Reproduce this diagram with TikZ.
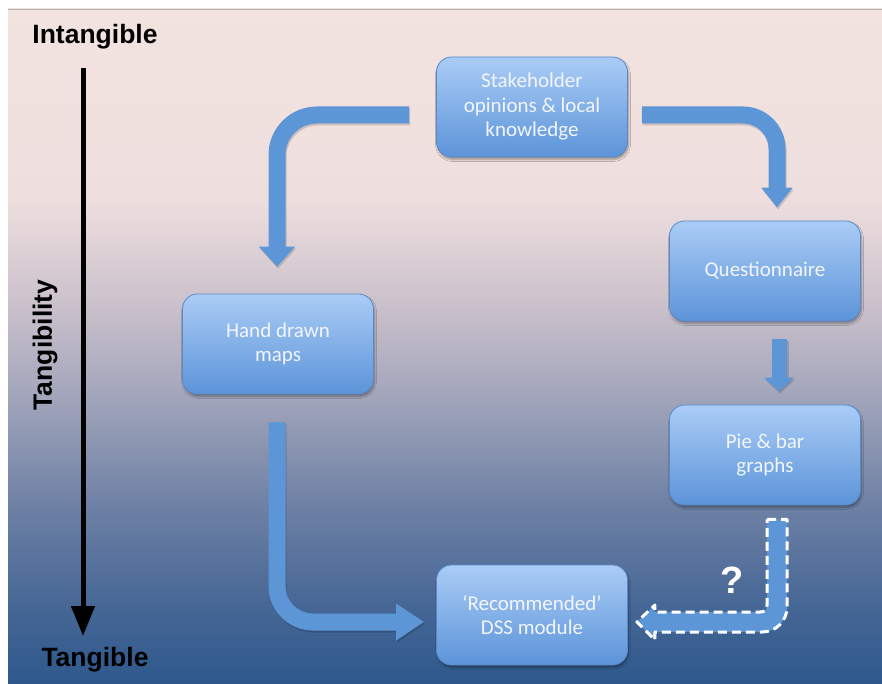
\documentclass[tikz,border=0pt]{standalone}
\usepackage{fontspec}
\setmainfont{Carlito}
\newfontfamily\labelfont{Liberation Sans}
\usetikzlibrary{arrows.meta,calc,shadows.blur}

% background colours, bottom to top
\definecolor{bgA}{RGB}{46,88,140}
\definecolor{bgB}{RGB}{72,104,150}
\definecolor{bgC}{RGB}{112,130,166}
\definecolor{bgD}{RGB}{160,164,186}
\definecolor{bgE}{RGB}{204,194,204}
\definecolor{bgF}{RGB}{238,222,222}
\definecolor{bgG}{RGB}{243,227,223}
\definecolor{boxtop}{RGB}{170,204,246}
\definecolor{boxbot}{RGB}{92,148,217}
\definecolor{boxline}{RGB}{88,138,200}
\definecolor{flow}{RGB}{92,150,215}
\definecolor{boxtext}{RGB}{242,246,252}

\pgfdeclareverticalshading{slidebg}{100bp}{%
  color(0bp)=(bgA); color(25bp)=(bgA); color(31.2bp)=(bgB);
  color(38.6bp)=(bgC); color(46bp)=(bgD); color(53.4bp)=(bgE);
  color(60.9bp)=(bgF); color(75bp)=(bgG); color(100bp)=(bgG)}

\tikzset{
  stagebox/.style={rectangle, rounded corners=15pt, minimum width=191pt,
    minimum height=100pt, top color=boxtop, bottom color=boxbot,
    draw=boxline, line width=0.8pt, align=center, text=boxtext,
    font=\fontsize{21}{24.5}\selectfont,
    blur shadow={shadow xshift=1pt, shadow yshift=-2.5pt,
      shadow blur steps=6, shadow opacity=35}},
  flowarrow/.style={draw=flow, line width=17pt,
    preaction={draw=black, opacity=0.15, line width=17pt,
      transform canvas={shift={(1pt,-2pt)}}}},
  axislabel/.style={font=\labelfont\bfseries\fontsize{26.5}{30}\selectfont, text=black},
  maybearrow/.style={fill=flow, draw=white, line width=3pt,
    dash pattern=on 9pt off 5pt, line join=round}
}

\begin{document}
\begin{tikzpicture}[x=1pt, y=-1pt]
\useasboundingbox (0,0) rectangle (882,684);
\fill[white] (0,0) rectangle (882,684);
\shade[shading=slidebg] (8,9) rectangle (882,684);
\draw[black!30, line width=0.8pt] (8,9) -- (882,9);

% tangibility axis
\node[axislabel] (intang) at (95,37) {Intangible};
\node[axislabel] (tang) at (95,660) {Tangible};
\node[axislabel, rotate=90] (tangib) at (45,345) {Tangibility};
\coordinate (axtop) at (83,68);
\coordinate (axbot) at (83,636);
\draw[line width=5pt, -{Triangle[width=23pt,length=30pt]}] (axtop) -- (axbot);

% stages
\node[stagebox] (stake) at (532,107) {Stakeholder\\opinions \& local\\knowledge};
\node[stagebox] (quest) at (765,271) {Questionnaire};
\node[stagebox] (hand) at (278,344) {Hand drawn\\maps};
\node[stagebox] (pie) at (765,455) {Pie \& bar\\graphs};
\node[stagebox] (dss) at (532,615) {`Recommended'\\DSS module};

% flows between stages
\draw[flowarrow, rounded corners=40pt, -{Triangle[width=35pt,length=20pt]}]
  ($(stake.west)+(-27,8)$) -| ($(hand.north)+(-1,-27)$);
\draw[flowarrow, rounded corners=34pt, -{Triangle[width=30pt,length=20pt]}]
  ($(stake.east)+(14,8)$) -| ($(quest.north)+(12,-13)$);
\draw[flowarrow, line width=15pt, -{Triangle[width=29pt,length=14pt]}]
  ($(quest.south)+(14,18)$) -- ($(pie.north)+(14,-13)$);
\draw[flowarrow, rounded corners=36pt, -{Triangle[width=35pt,length=28pt]}]
  ($(hand.south)+(-1,28)$) |- ($(dss.west)+(-12,7)$);

% uncertain flow from graphs to the module
\coordinate (pq) at ($(pie.south)+(12,14)$);
\coordinate (dq) at ($(dss.east)+(9,7)$);
\coordinate (pc) at (pq |- dq);
\draw[maybearrow]
  ($(pq)+(-10,0)$) -- ($(pq)+(10,0)$) -- ($(pc)+(10,-15)$)
  .. controls +(0,14) and +(14,0) .. ($(pc)+(-15,10)$)
  -- ($(dq)+(18,10)$) -- ($(dq)+(18,18)$) -- (dq)
  -- ($(dq)+(18,-17)$) -- ($(dq)+(18,-10)$) -- ($(pc)+(-17,-10)$)
  .. controls +(5,0) and +(0,5) .. ($(pc)+(-10,-17)$) -- cycle;
\node[font=\labelfont\bfseries\fontsize{38}{42}\selectfont, text=white] (q) at (732,580) {?};
\end{tikzpicture}
\end{document}
